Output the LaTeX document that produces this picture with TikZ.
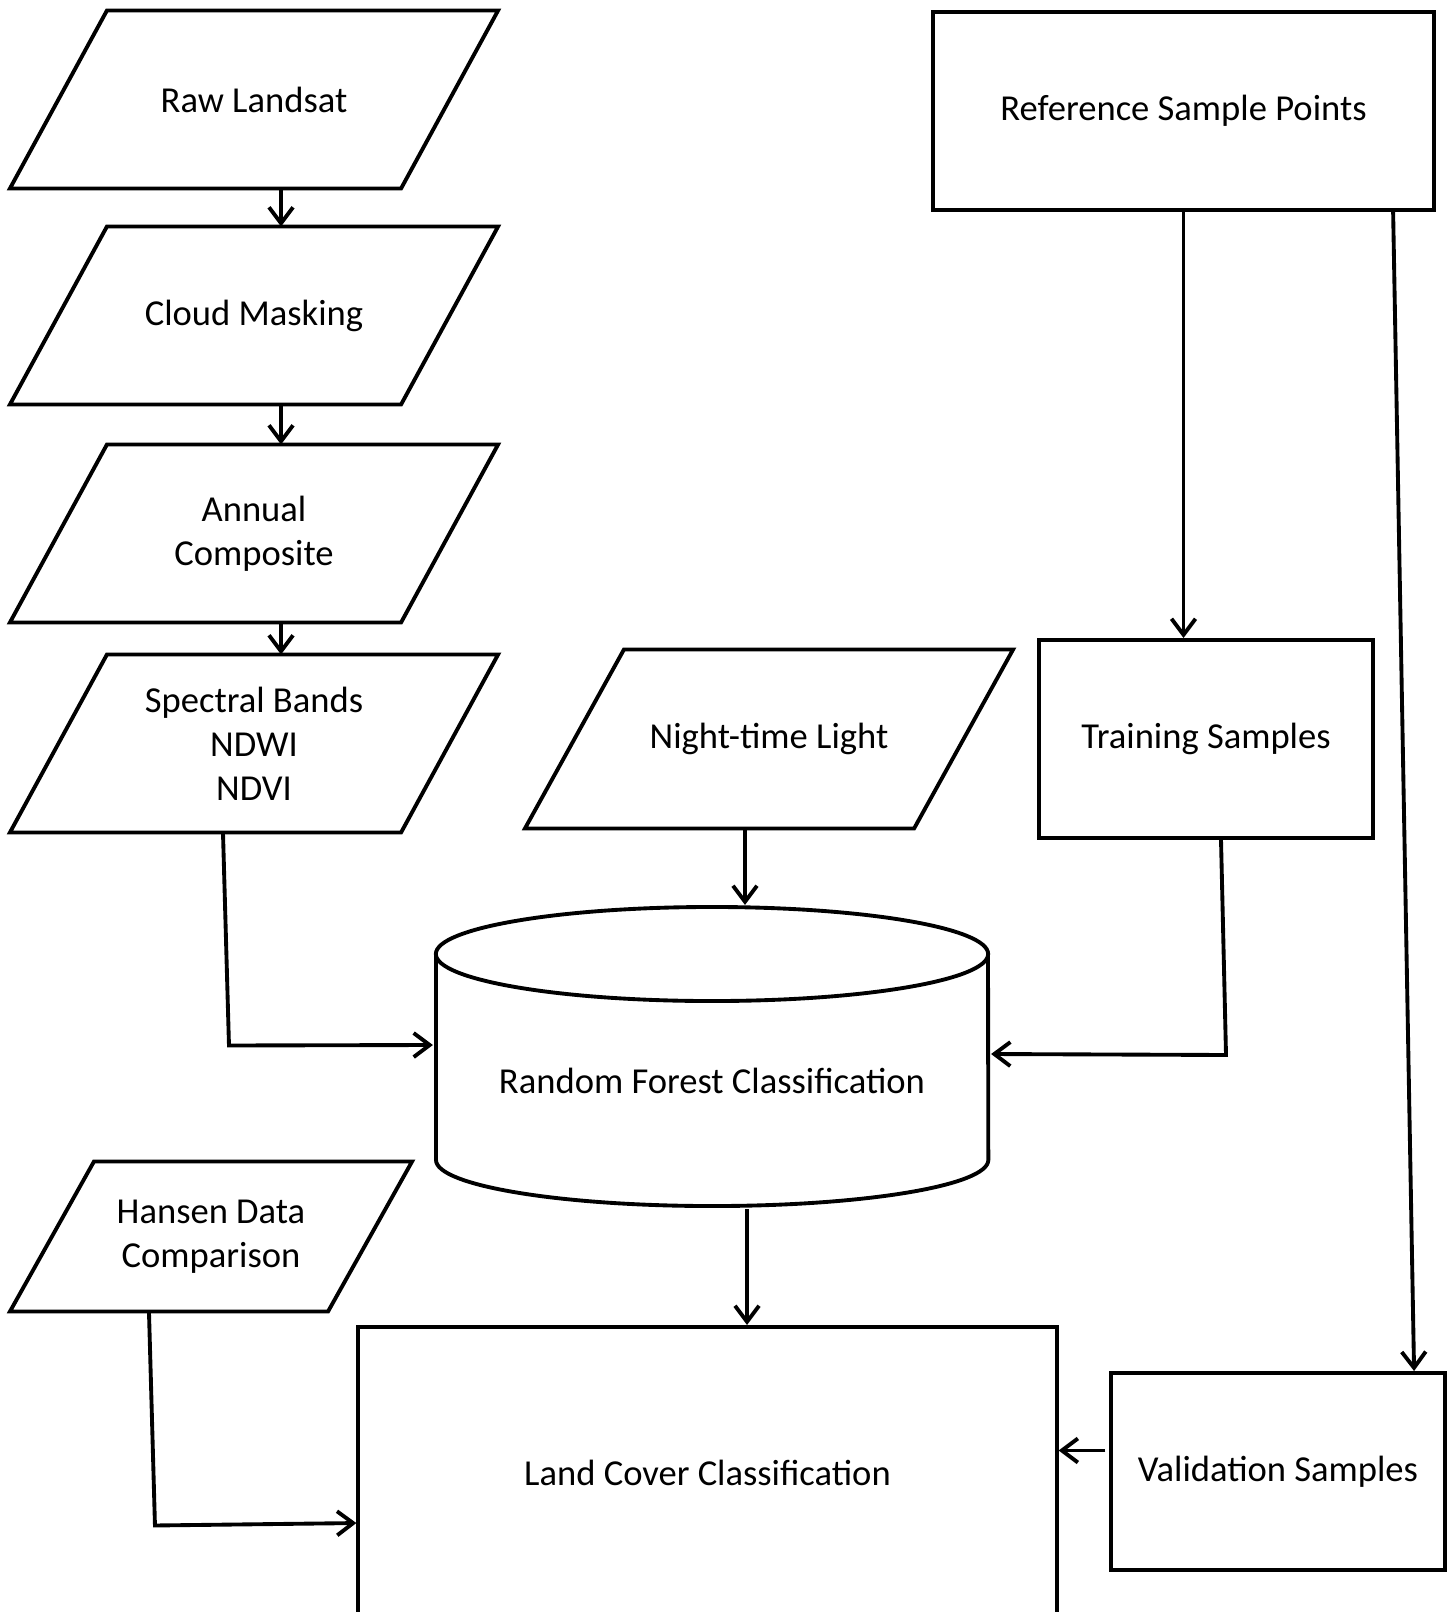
\documentclass[tikz,border=0pt]{standalone}
\usepackage{fontspec}
\setmainfont{Carlito}
\usepackage{tikz}
\usetikzlibrary{arrows.meta,positioning}

\begin{document}
\begin{tikzpicture}[x=0.01cm, y=-0.01cm, line width=1.1pt,
    >={Straight Barb[length=1.6mm,width=2.4mm]},
    every node/.style={font=\fontsize{10.4}{12.5}\selectfont, align=center},
    io/.style={rectangle, inner sep=0pt, minimum width=4.84cm, minimum height=1.74cm},
    box/.style={draw, rectangle, inner sep=0pt}]
    \useasboundingbox (0,0) rectangle (1450,1612);
    \clip (0,0) rectangle (1450,1612);

    % input chain on the left
    \node[io] (raw) at (254,99.5) {Raw Landsat};
    \node[io] (cloud) at (254,315.5) {Cloud Masking};
    \node[io] (annual) at (254,533.5) {Annual\\Composite};
    \node[io] (spec) at (254,743.5) {Spectral Bands\\NDWI\\NDVI};
    \node[io, minimum height=1.75cm] (night) at (769,739) {Night-time Light};
    \node[io, minimum width=3.98cm, minimum height=1.46cm] (hansen) at (211,1236.5) {Hansen Data\\Comparison};
    \foreach \n/\s in {raw/97, cloud/97, annual/97, spec/97, night/99, hansen/84}
        \draw ([xshift=\s*0.01cm]\n.north west) -- (\n.north east)
            -- ([xshift=-\s*0.01cm]\n.south east) -- (\n.south west) -- cycle;

    % sample boxes
    \node[box, minimum width=5.0cm, minimum height=1.98cm] (ref) at (1183.5,111) {Reference Sample Points};
    \node[box, minimum width=3.33cm, minimum height=1.98cm] (train) at (1206,739) {Training Samples};
    \node[box, minimum width=3.33cm, minimum height=1.97cm] (val) at (1278,1471.5) {Validation Samples};
    \node[box, minimum width=6.98cm, minimum height=2.92cm] (land) at (707.5,1473) {Land Cover Classification};

    % classifier drum
    \node[minimum width=5.54cm, minimum height=3cm, inner sep=0pt,
        label={[yshift=-0.24cm]center:Random Forest Classification}] (rf) at (712,1057) {};
    \draw (712,954) ellipse [x radius=2.76cm, y radius=0.47cm];
    \draw (436,954) -- (436,1160) arc[start angle=180, end angle=360, x radius=2.76cm, y radius=0.46cm] -- (988,954);

    \draw[->] ([xshift=0.27cm]raw.south) -- ([xshift=0.27cm]cloud.north);
    \draw[->] ([xshift=0.27cm]cloud.south) -- ([xshift=0.27cm]annual.north);
    \draw[->] ([xshift=0.27cm]annual.south) -- ([xshift=0.27cm]spec.north);
    \draw[->] ([xshift=-0.31cm]spec.south) -- ++(6,213) -- ([yshift=0.12cm]rf.west);
    \draw[->] ([xshift=-0.24cm]night.south) -- ([xshift=-0.24cm]night.south |- rf.north);
    \draw[->] (ref.south) -- (ref.south |- train.north);
    \draw[->] ([xshift=2.095cm]ref.south) -- ([xshift=1.36cm]val.north);
    \draw[->] ([xshift=0.15cm]train.south) -- ++(5,215) -- ([yshift=0.03cm]rf.east);
    \draw[->] ([xshift=0.35cm]rf.south) -- ([xshift=0.35cm]rf.south |- land.north);
    \draw[->] ([yshift=0.21cm,xshift=-0.04cm]val.west) -- ([yshift=0.21cm]val.west -| land.east);
    \draw[->] ([xshift=-0.62cm]hansen.south) -- ++(6,214) -- ([yshift=-0.5cm]land.west);
\end{tikzpicture}
\end{document}
